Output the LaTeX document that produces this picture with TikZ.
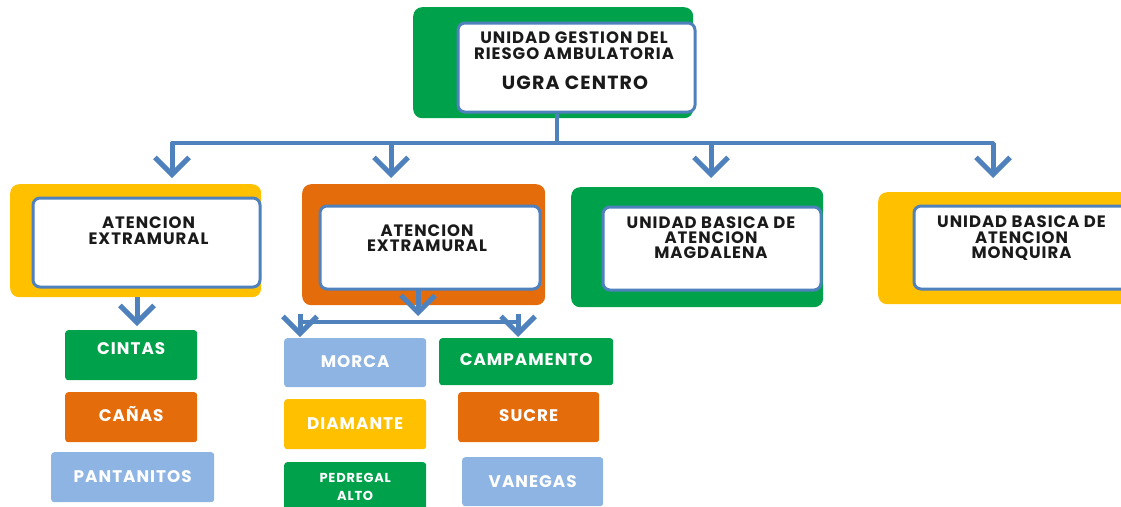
\documentclass[tikz,border=0pt]{standalone}
\usepackage{fontspec}
\setmainfont{Poppins}[LetterSpace=6]
\usetikzlibrary{arrows.meta}
\definecolor{cgreen}{HTML}{00A14B}
\definecolor{corange}{HTML}{E46C0A}
\definecolor{cyellow}{HTML}{FFC000}
\definecolor{cblue}{HTML}{8EB4E3}
\definecolor{lblue}{HTML}{4F81BD}
\definecolor{txt}{HTML}{1A1A1A}
\begin{document}
\begin{tikzpicture}[x=1pt,y=-1pt,
  outerbox/.style={fill=#1, rounded corners=9pt, anchor=north west, inner sep=0pt},
  innerbox/.style={fill=white, draw=lblue, line width=3pt, rounded corners=7pt, anchor=north west, inner sep=0pt},
  title/.style={anchor=north, inner sep=0pt, align=center, text=txt, font=\bfseries\fontsize{16.5}{16}\selectfont},
  leafbase/.style={fill=#1, rounded corners=3pt, anchor=north west, inner sep=0pt, text=white,
    font=\bfseries\fontsize{16.8}{16}\selectfont},
  leaf/.style={leafbase=#1, text height=11.6pt, text depth=0pt},
  bar/.style={draw=lblue, line width=4pt},
  arr/.style={draw=lblue, line width=5pt, -{Straight Barb[length=17pt,width=34pt]}}]
\useasboundingbox (0,0) rectangle (1121,506);

% top box
\node[outerbox=cgreen, minimum width=280pt, minimum height=111pt] (topout) at (413,7) {};
\node[innerbox, minimum width=237pt, minimum height=89pt] (top) at (456.5,21.5) {};
\node[title] (toptxt) at (574,32) {UNIDAD GESTION DEL\\RIESGO AMBULATORIA};
\node[title, font=\bfseries\fontsize{19}{20}\selectfont] (topsub) at (575,76) {UGRA CENTRO};

% box 1
\node[outerbox=cyellow, minimum width=251pt, minimum height=113pt] (b1out) at (10,184) {};
\node[innerbox, minimum width=227pt, minimum height=89pt] (b1) at (31.5,196.5) {};
\node[title] (b1txt) at (148.5,217) {ATENCION\\EXTRAMURAL};

% box 2
\node[outerbox=corange, minimum width=243pt, minimum height=121pt] (b2out) at (302,184) {};
\node[innerbox, minimum width=220pt, minimum height=83pt] (b2) at (318.5,204.5) {};
\node[title, font=\bfseries\fontsize{16.5}{15}\selectfont] (b2txt) at (427,225) {ATENCION\\EXTRAMURAL};

% box 3
\node[outerbox=cgreen, minimum width=252pt, minimum height=120pt] (b3out) at (571,187) {};
\node[innerbox, minimum width=218pt, minimum height=83pt] (b3) at (601.5,205.5) {};
\node[title, font=\bfseries\fontsize{16.5}{15}\selectfont] (b3txt) at (711,217) {UNIDAD BASICA DE\\ATENCION\\MAGDALENA};

% box 4
\node[outerbox=cyellow, minimum width=260pt, minimum height=112pt] (b4out) at (878,192) {};
\node[innerbox, minimum width=222pt, minimum height=83pt] (b4) at (912.5,204.5) {};
\node[title, font=\bfseries\fontsize{16.5}{15.5}\selectfont] (b4txt) at (1021.5,216) {UNIDAD BASICA DE\\ATENCION\\MONQUIRA};

% leaves under box 1
\node[leaf=cgreen, minimum width=132pt, minimum height=50pt, text depth=13pt] (cintas) at (65,330) {CINTAS};
\node[leaf=corange, minimum width=132pt, minimum height=50pt, text depth=3pt] (canas) at (65,392) {CAÑAS};
\node[leaf=cblue, minimum width=163pt, minimum height=50pt, text depth=2pt] (pant) at (51,452) {PANTANITOS};

% leaves under box 2
\node[leaf=cblue, minimum width=142pt, minimum height=49pt, text depth=2pt] (morca) at (284,338) {MORCA};
\node[leaf=cyellow, minimum width=142pt, minimum height=50pt, text depth=1pt] (diam) at (284,399) {DIAMANTE};
\node[leafbase=cgreen, minimum width=142pt, minimum height=49pt, align=center,
  font=\bfseries\fontsize{13}{18}\selectfont] (pedre) at (284,462) {PEDREGAL\\ALTO};
\node[leaf=cgreen, minimum width=174pt, minimum height=47pt, text depth=4pt] (campa) at (439,338) {CAMPAMENTO};
\node[leaf=corange, minimum width=141pt, minimum height=50pt, text depth=3pt] (sucre) at (458,392) {SUCRE};
\node[leaf=cblue, minimum width=141pt, minimum height=49pt] (vane) at (462,457) {VANEGAS};

% connectors from top
\coordinate (bus) at (557,143);
\coordinate (busL) at (172,143);
\coordinate (busR) at (993,143);
\coordinate (bus2) at (391,143);
\coordinate (bus3) at (711,143);
\coordinate (t1) at (172,178);
\coordinate (t2) at (391,178);
\coordinate (t3) at (711,178);
\coordinate (t4) at (993,178);
\draw[bar] (top.south -| bus) -- (bus);
\draw[bar, line join=round] (t1 |- 0,160) -- (busL) -- (busR) -- (t4 |- 0,160);
\draw[arr] (busL) -- (t1);
\draw[arr] (bus2) -- (t2);
\draw[arr] (bus3) -- (t3);
\draw[arr] (busR) -- (t4);

% box 1 to leaves
\coordinate (s1) at (137,297);
\coordinate (e1) at (137,326);
\draw[arr] (s1) -- (e1);

% box 2 to leaves
\coordinate (s2) at (418,289);
\coordinate (e2) at (418,316);
\coordinate (sbL) at (300,322);
\coordinate (sbR) at (518,322);
\coordinate (eL) at (300,337);
\coordinate (eR) at (518,337);
\draw[arr] (s2) -- (e2);
\draw[bar] (sbL) -- (sbR);
\draw[arr] (300,314) -- (eL);
\draw[arr] (518,314) -- (eR);
\end{tikzpicture}
\end{document}
